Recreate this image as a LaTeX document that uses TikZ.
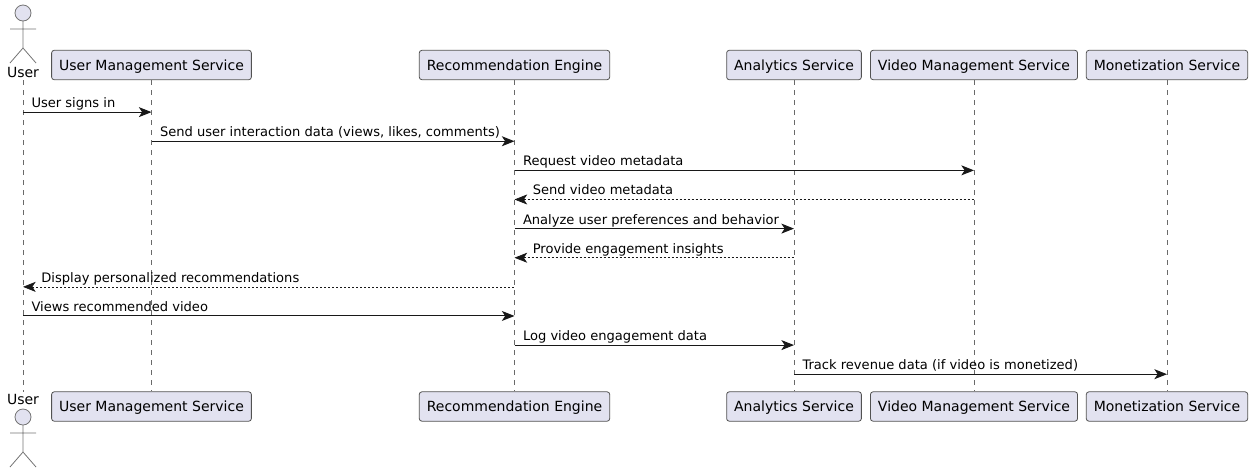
\documentclass[tikz,border=0pt]{standalone}
\usepackage{fontspec}
\setmainfont{DejaVu Sans}
\usepackage{xcolor}
\definecolor{boxfill}{HTML}{E2E2F0}
\definecolor{ink}{HTML}{181818}
\usetikzlibrary{arrows.meta, positioning}
\tikzset{
    party/.style={draw=ink!75, fill=boxfill, line width=0.6pt, rounded corners=1.9pt, minimum height=22pt, inner xsep=5.6pt, inner ysep=0pt, text height=9pt, text depth=1.5pt, text=black, font=\fontsize{10.5}{12}\selectfont},
    actorname/.style={inner sep=0pt, text height=9pt, text depth=1.5pt, minimum height=11.25pt, text=black, font=\fontsize{10.5}{12}\selectfont},
    lifeline/.style={draw=ink!65, line width=0.4pt, dash pattern=on 3.75pt off 3.75pt},
    msg/.style={draw=ink, line width=0.75pt, -{Stealth[length=9.5pt, width=7.5pt, inset=2.5pt]}},
    reply/.style={draw=ink, line width=0.5pt, dash pattern=on 1.5pt off 1.5pt, {Stealth[length=9.5pt, width=7.5pt, inset=2.5pt, line width=0.5pt]}-},
    msgtext/.style={pos=0, anchor=base west, xshift=6pt, yshift=3.4pt, inner sep=0pt, text=black, font=\fontsize{9.8pt}{12}\selectfont},
    replytext/.style={msgtext, xshift=7.5pt},
    stickman/.pic={
        \draw[draw=ink!60, fill=boxfill, line width=0.6pt] (0,0) circle (6pt);
        \draw[draw=ink!60, line width=0.6pt] (0,8) -- (0,35) (-13,16) -- (13,16) (-13,50) -- (0,35) -- (13,50);
    }
}
\begin{document}
\begin{tikzpicture}[x=0.75pt, y=-0.75pt]
    \useasboundingbox (0,0) rectangle (1252,472);
    % Top row
    \node[actorname] (user) at (23,72.5) {User};
    \node[party] (ums) at (151.5,65) {User Management Service};
    \node[party] (engine) at (514.5,65) {Recommendation Engine};
    \node[party] (analytics) at (794,65) {Analytics Service};
    \node[party] (video) at (974,65) {Video Management Service};
    \node[party] (money) at (1167,65) {Monetization Service};
    % Bottom row
    \node[actorname] (userB) at (23,399.5) {User};
    \node[party] (umsB) at (151.5,406.5) {User Management Service};
    \node[party] (engineB) at (514.5,406.5) {Recommendation Engine};
    \node[party] (analyticsB) at (794,406.5) {Analytics Service};
    \node[party] (videoB) at (974,406.5) {Video Management Service};
    \node[party] (moneyB) at (1167,406.5) {Monetization Service};
    % Actor figures
    \pic at (23,13) {stickman};
    \pic at (23,417) {stickman};
    % Lifelines
    \foreach \who in {user,ums,engine,analytics,video,money}
        \draw[lifeline] (\who.south) -- (\who B.north);
    % Message rows
    \foreach \i in {1,...,10}
        \coordinate (r\i) at (0,{83+29.12*\i});
    \draw[msg] (user |- r1) -- (ums |- r1) node[msgtext] {User signs in};
    \draw[msg] (ums |- r2) -- (engine |- r2) node[msgtext] {Send user interaction data (views, likes, comments)};
    \draw[msg] (engine |- r3) -- (video |- r3) node[msgtext] {Request video metadata};
    \draw[reply] (engine |- r4) -- (video |- r4) node[replytext] {Send video metadata};
    \draw[msg] (engine |- r5) -- (analytics |- r5) node[msgtext] {Analyze user preferences and behavior};
    \draw[reply] (engine |- r6) -- (analytics |- r6) node[replytext] {Provide engagement insights};
    \draw[reply] (user |- r7) -- (engine |- r7) node[replytext] {Display personalized recommendations};
    \draw[msg] (user |- r8) -- (engine |- r8) node[msgtext] {Views recommended video};
    \draw[msg] (engine |- r9) -- (analytics |- r9) node[msgtext] {Log video engagement data};
    \draw[msg] (analytics |- r10) -- (money |- r10) node[msgtext] {Track revenue data (if video is monetized)};
\end{tikzpicture}
\end{document}
